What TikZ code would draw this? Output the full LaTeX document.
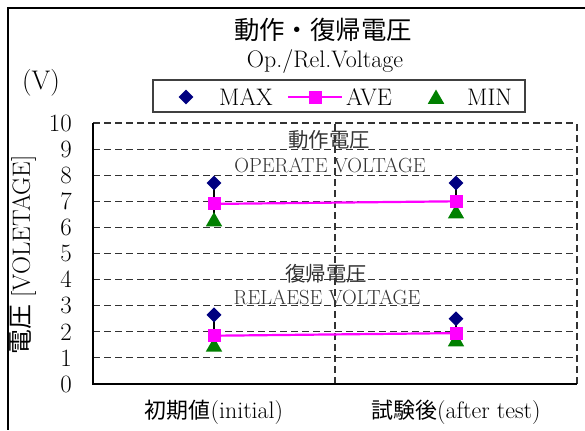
\documentclass[tikz,border=0pt]{standalone}
\usepackage{fontspec}
\newfontfamily\jp{Noto Sans CJK JP}
\usetikzlibrary{shapes.geometric,positioning}

\definecolor{maxblue}{RGB}{0,0,128}
\definecolor{avemagenta}{RGB}{255,0,255}
\definecolor{mingreen}{RGB}{0,128,0}
\definecolor{gridgray}{RGB}{50,50,50}

\tikzset{
	maxmark/.style={diamond, fill=maxblue, inner sep=0pt, minimum size=15bp},
	avemark/.style={rectangle, fill=avemagenta, inner sep=0pt, minimum size=13bp},
	minmark/.style={regular polygon, regular polygon sides=3, fill=mingreen, inner sep=0pt, minimum size=19bp, yshift=-2bp},
	gridline/.style={gridgray, line width=1.1bp, dash pattern=on 7bp off 4bp},
	axisline/.style={black, line width=1.5bp},
	aveline/.style={avemagenta, line width=2.2bp},
	hiloline/.style={black, line width=1.8bp},
	ticklabel/.style={font=\fontsize{25}{25}\selectfont, inner sep=0pt, anchor=east},
	legendtext/.style={font=\fontsize{24}{24}\selectfont, inner sep=0pt, anchor=west},
	note/.style={text=black!80, inner sep=0pt},
}

\begin{document}
\begin{tikzpicture}[x=1bp, y=-1bp]

	% ---- parameters

	\def\plotleft{93}
	\def\plotbottom{384}
	\def\plotwidth{484}
	\def\vscale{26.1}

	\useasboundingbox (0,0) rectangle (585,430);

	% ---- outer frame

	\draw[line width=1.6bp] (585,8) -- (8,8) -- (8,430);

	% ---- titles

	\node[font=\jp\fontsize{25.5}{25.5}\selectfont] (title) at (323,30) {動作・復帰電圧};
	\node[font=\fontsize{24}{24}\selectfont] (subtitle) at (325,62) {Op./Rel.Voltage};
	\node[font=\fontsize{27}{27}\selectfont] (unit) at (41,83) {(V)};

	% ---- legend

	\node[draw=black!75, line width=1.2bp, minimum width=372bp, minimum height=32bp, inner sep=0pt] (legend) at (339,96) {};
	\node[maxmark] (lgmax) at (186,97) {};
	\node[legendtext] (lgmaxtext) at (219,97) {MAX};
	\coordinate (lgavept) at (315,97);
	\draw[aveline] ([xshift=-27bp]lgavept) -- ([xshift=27bp]lgavept);
	\node[avemark] (lgave) at (lgavept) {};
	\node[legendtext] (lgavetext) at (346,97) {AVE};
	\node[minmark] (lgmin) at (436,97) {};
	\node[legendtext] (lgmintext) at (467,97) {MIN};

	% ---- plot area

	\begin{scope}[shift={(\plotleft,\plotbottom)}, yscale=-\vscale]

		% grid
		\foreach \v in {1,...,10} {
			\draw[gridline] (0,\v) -- (\plotwidth,\v);
		}
		\draw[gridline] (\plotwidth/2,0) -- (\plotwidth/2,10);
		\draw[gridline] (\plotwidth,0) -- (\plotwidth,10);
		\draw[axisline] (0,10) -- (0,0) -- (\plotwidth,0);

		% tick labels
		\foreach \v in {0,...,10} {
			\node[ticklabel] (tick\v) at (-21,\v) {\v};
		}

		% data points
		\foreach \pt/\x/\vmax/\vave/\vmin in {op1/121/7.7/6.9/6.3, op2/363/7.7/7.0/6.6,
				rel1/121/2.65/1.85/1.5, rel2/363/2.5/1.95/1.7} {
			\coordinate (\pt-hi) at (\x,\vmax);
			\coordinate (\pt-mid) at (\x,\vave);
			\coordinate (\pt-lo) at (\x,\vmin);
		}

	\end{scope}

	% ---- high-low lines

	\foreach \pt in {op1,op2,rel1,rel2} {
		\draw[hiloline] (\pt-hi) -- (\pt-lo);
	}

	% ---- average lines

	\draw[aveline] (op1-mid) -- (op2-mid);
	\draw[aveline] (rel1-mid) -- (rel2-mid);

	% ---- markers

	\foreach \pt in {op1,op2,rel1,rel2} {
		\node[maxmark] (\pt-max) at (\pt-hi) {};
		\node[minmark] (\pt-min) at (\pt-lo) {};
		\node[avemark] (\pt-ave) at (\pt-mid) {};
	}

	% ---- notes

	\node[note, font=\jp\fontsize{20.5}{20.5}\selectfont] (opjp) at (329,140) {動作電圧};
	\node[note, font=\fontsize{20.5}{20.5}\selectfont] (open) at (330,165) {OPERATE VOLTAGE};
	\node[note, font=\jp\fontsize{20.5}{20.5}\selectfont] (reljp) at (326,274) {復帰電圧};
	\node[note, font=\fontsize{20.5}{20.5}\selectfont] (relen) at (327,297) {RELAESE VOLTAGE};

	% ---- axis titles

	\node[rotate=90, font=\fontsize{25}{25}\selectfont] (ytitle) at (23,255) {{\jp 電圧} [VOLETAGE]};
	\node[font=\fontsize{24}{24}\selectfont] (cat1) at (214,412) {{\jp\fontsize{22}{22}\selectfont 初期値}(initial)};
	\node[font=\fontsize{24}{24}\selectfont] (cat2) at (456,412) {{\jp\fontsize{22}{22}\selectfont 試験後}(after test)};

\end{tikzpicture}
\end{document}
